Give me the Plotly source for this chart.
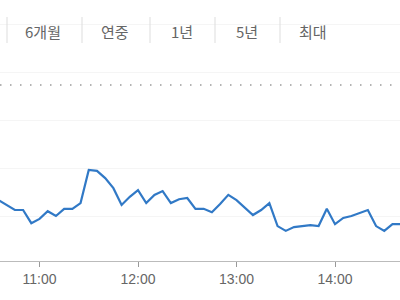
import plotly.graph_objects as go
import pandas as pd

times = pd.date_range("2024-01-02 10:35", "2024-01-02 14:40", freq="5min")
prices = [1203.3, 1202.3, 1201.25, 1201.25, 1198.5, 1199.4, 1201.0, 1200.0, 1201.5, 1201.5,
          1202.7, 1209.6, 1209.4, 1207.9, 1205.8, 1202.3, 1204.0, 1205.4, 1202.7, 1204.4,
          1205.2, 1202.7, 1203.5, 1203.75, 1201.5, 1201.5, 1200.8, 1202.5, 1204.4, 1203.3,
          1201.7, 1200.2, 1201.25, 1202.7, 1197.9, 1196.9, 1197.7, 1197.9, 1198.1, 1197.9,
          1201.5, 1198.3, 1199.6, 1200.0, 1200.6, 1201.25, 1197.9, 1196.9, 1198.3, 1198.3]
prev_close = 1227.3
tabs = ["6개월", "연중", "1년", "5년", "최대"]
tab_x = [43, 115, 182, 247, 313]
sep_x = [7, 82, 150, 215, 280]

W, H, B = 400, 300, 39
PH = H - B

fig = go.Figure()
fig.add_trace(go.Scatter(x=times, y=prices, mode="lines",
                         line=dict(color="#3179c6", width=2.2), hoverinfo="skip"))

fig.add_hline(y=prev_close, line=dict(color="#9a9a9a", width=1.5, dash="1.5px,8.5px"))

for t, x in zip(tabs, tab_x):
    fig.add_annotation(x=x / W, y=1 - 31 / PH, xref="paper", yref="paper", text=t,
                       showarrow=False, xanchor="center", yanchor="middle",
                       font=dict(family="Noto Sans CJK KR, Arial", size=15, color="#666666"))
for x in sep_x:
    fig.add_shape(type="line", xref="paper", yref="paper", x0=x / W, x1=x / W,
                  y0=1 - 17 / PH, y1=1 - 43 / PH, line=dict(color="#dddddd", width=1))

fig.update_layout(
    width=W, height=H, margin=dict(l=0, r=0, t=0, b=B),
    paper_bgcolor="white", plot_bgcolor="white", showlegend=False,
    xaxis=dict(type="date", range=["2024-01-02 10:35:56", "2024-01-02 14:39:35"],
               tickformat="%H:%M", dtick=3600000, tick0="2024-01-02 11:00",
               showgrid=False, showline=True, linecolor="#bbbbbb", linewidth=1,
               ticks="outside", ticklen=5, tickcolor="#999999",
               tickfont=dict(family="Arial, Liberation Sans", size=14, color="#666666"),
               zeroline=False, fixedrange=True),
    yaxis=dict(range=[1190.625, 1245], dtick=10, tick0=1200, showticklabels=False,
               showgrid=True, gridcolor="#f5f5f5", gridwidth=1, zeroline=False,
               showline=False, fixedrange=True),
)

fig.write_html("out.html", config={"displayModeBar": False})
